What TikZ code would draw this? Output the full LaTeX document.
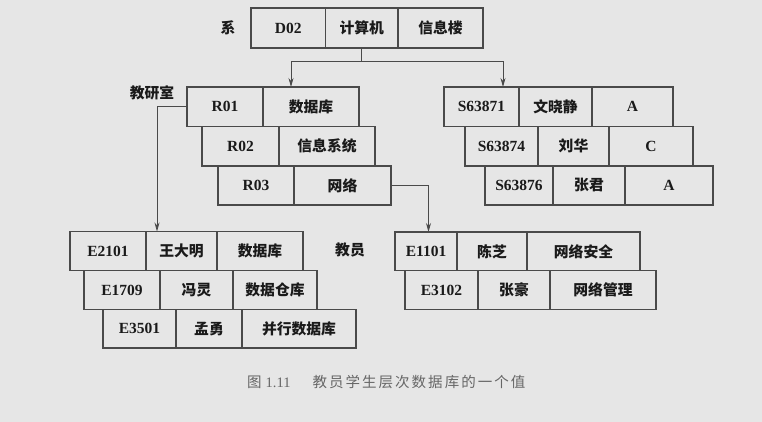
\documentclass[tikz,border=0pt]{standalone}
\usepackage{fontspec}
\setmainfont{Liberation Serif}
\newfontfamily\cjk{Noto Sans CJK SC}
\newfontfamily\cjkcap{Noto Sans CJK SC}[LetterSpace=14]
\usetikzlibrary{arrows.meta}
\definecolor{bg}{HTML}{E6E6E6}
\definecolor{linec}{HTML}{4A4A4A}
\definecolor{txt}{HTML}{1A1A1A}
\definecolor{capc}{HTML}{666666}
\tikzset{
  cellbox/.style={draw=linec, line width=1.3pt, fill=bg, anchor=north west, inner sep=0pt, outer sep=0pt, text=txt},
  lat/.style={font=\fontsize{15.5}{17}\selectfont\bfseries},
  zh/.style={font=\fontsize{14.8}{17}\selectfont\cjk\bfseries},
  lbl/.style={font=\fontsize{14.8}{17}\selectfont\cjk\bfseries, text=txt, inner sep=0pt},
  conn/.style={draw=linec, line width=0.8pt},
  arr/.style={-{Stealth[length=9pt,width=5pt]}}
}
\newcommand\cellbox[7]{\node[cellbox,#7,minimum width=#4pt,minimum height=#5pt] (#1) at (#2,#3) {#6};}
\begin{document}
\begin{tikzpicture}[x=1pt,y=-1pt]
\path[fill=bg] (0,0) rectangle (762,422);
\useasboundingbox (0,0) rectangle (762,422);
% labels
\node[lbl] (lxi) at (228,28) {系};
\node[lbl] (ljys) at (152,93) {教研室};
\node[lbl] (ljy) at (350,250) {教员};
% department record
\cellbox{d1}{251}{8}{74.5}{40}{D02}{lat}
\cellbox{d2}{325.5}{8}{72.5}{40}{计算机}{zh}
\cellbox{d3}{398}{8}{85}{40}{信息楼}{zh}
% teaching-research rooms
\cellbox{r01a}{187}{87}{76}{39.5}{R01}{lat}
\cellbox{r01b}{263}{87}{96}{39.5}{数据库}{zh}
\cellbox{r02a}{202}{126.5}{77}{39.5}{R02}{lat}
\cellbox{r02b}{279}{126.5}{96}{39.5}{信息系统}{zh}
\cellbox{r03a}{218}{166}{76}{39}{R03}{lat}
\cellbox{r03b}{294}{166}{97}{39}{网络}{zh}
% students
\cellbox{s1a}{444}{87}{75}{39.5}{S63871}{lat}
\cellbox{s1b}{519}{87}{73}{39.5}{文晓静}{zh}
\cellbox{s1c}{592}{87}{81}{39.5}{A}{lat}
\cellbox{s2a}{465}{126.5}{73}{39.5}{S63874}{lat}
\cellbox{s2b}{538}{126.5}{71}{39.5}{刘华}{zh}
\cellbox{s2c}{609}{126.5}{84}{39.5}{C}{lat}
\cellbox{s3a}{485}{166}{68}{39}{S63876}{lat}
\cellbox{s3b}{553}{166}{72}{39}{张君}{zh}
\cellbox{s3c}{625}{166}{88}{39}{A}{lat}
% teachers left
\cellbox{e1a}{70}{231.5}{76}{39.2}{E2101}{lat}
\cellbox{e1b}{146}{231.5}{71}{39.2}{王大明}{zh}
\cellbox{e1c}{217}{231.5}{86}{39.2}{数据库}{zh}
\cellbox{e2a}{84}{270.7}{76}{38.6}{E1709}{lat}
\cellbox{e2b}{160}{270.7}{73}{38.6}{冯灵}{zh}
\cellbox{e2c}{233}{270.7}{84}{38.6}{数据仓库}{zh}
\cellbox{e3a}{103}{309.3}{73}{38.7}{E3501}{lat}
\cellbox{e3b}{176}{309.3}{66}{38.7}{孟勇}{zh}
\cellbox{e3c}{242}{309.3}{114}{38.7}{并行数据库}{zh}
% teachers right
\cellbox{f1a}{395}{232}{62}{38.7}{E1101}{lat}
\cellbox{f1b}{457}{232}{70}{38.7}{陈芝}{zh}
\cellbox{f1c}{527}{232}{113}{38.7}{网络安全}{zh}
\cellbox{f2a}{405}{270.7}{73}{38.6}{E3102}{lat}
\cellbox{f2b}{478}{270.7}{72}{38.6}{张豪}{zh}
\cellbox{f2c}{550}{270.7}{106}{38.6}{网络管理}{zh}
% connectors
\coordinate (br) at (361.75,61);
\coordinate (t1) at (291,87);
\coordinate (t2) at (503,87);
\coordinate (t3) at (157,231.5);
\coordinate (t4) at (428.5,232);
\draw[conn] (d2.south) -- (br);
\draw[conn,arr] (br) -| (t1);
\draw[conn,arr] (br) -| (t2);
\draw[conn,arr] (r01a.west) -| (t3);
\draw[conn,arr] (r03b.east) -| (t4);
% caption
\node[text=capc, inner sep=0pt, anchor=west, font=\fontsize{14.5}{17}\selectfont] (cap) at (247,382) {{\cjk 图}\hspace{4pt}1.11\hspace{22pt}{\cjkcap 教员学生层次数据库的一个值}};
\end{tikzpicture}
\end{document}
